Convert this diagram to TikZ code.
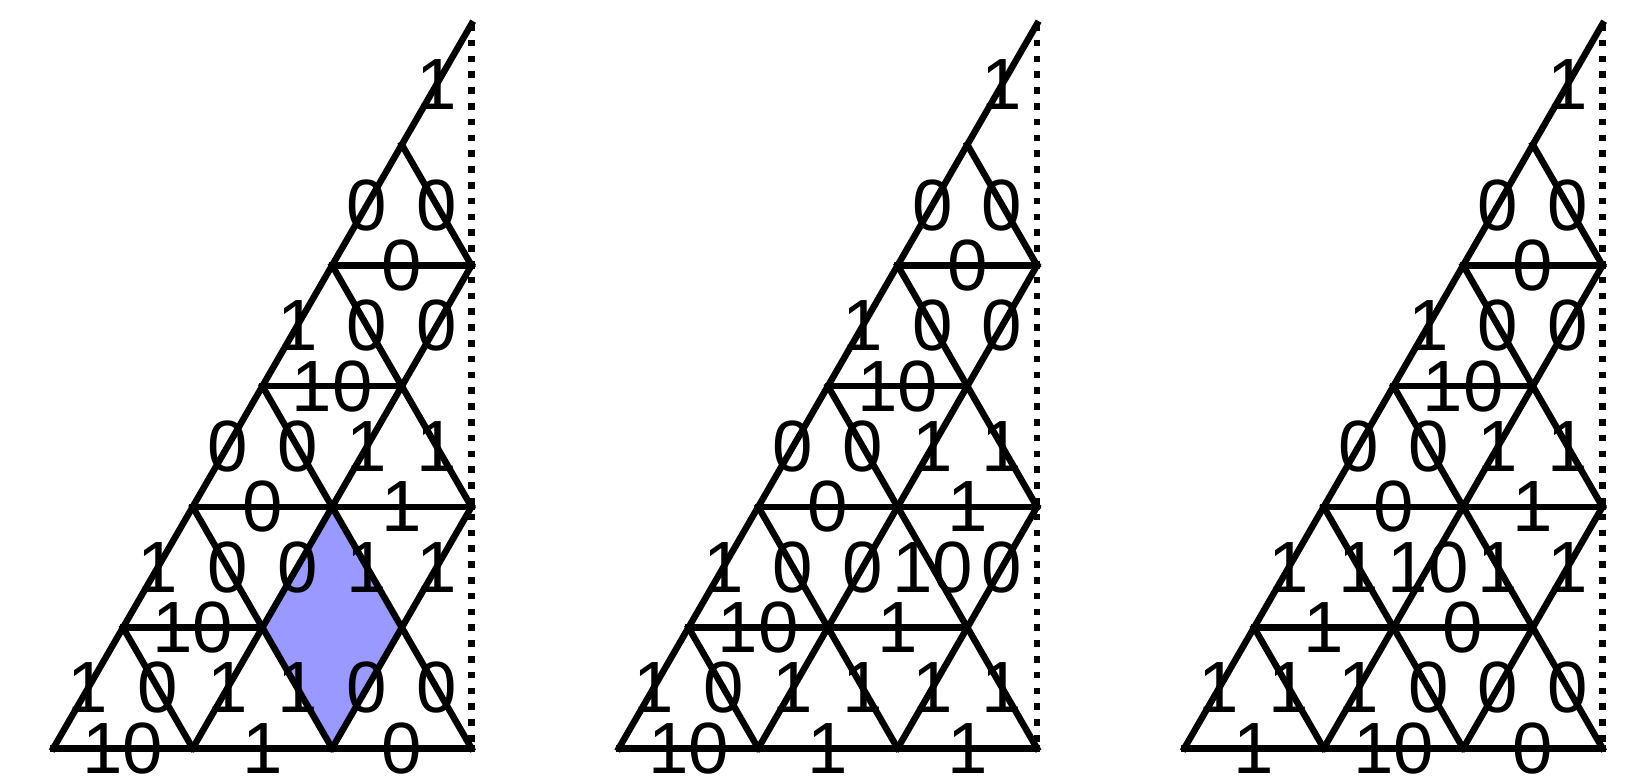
\documentclass[tikz,border=0pt]{standalone}
\usepackage{fontspec}
\setmainfont{Liberation Sans}
\definecolor{rhomb}{RGB}{153,153,255}
\newcommand\latlines[1]{%
  \draw[mirror] (3,6)--(3,0);
  \draw[edge] (0,0)--(3,0);
  \draw[edge] (0,0)--(3,6);
  \draw[edge] (0.5,1)--(#1,1);
  \draw[edge] (1,2)--(3,2);
  \draw[edge] (1.5,3)--(2.5,3);
  \draw[edge] (2,4)--(3,4);
  \draw[edge] (1,0)--(3,4);
  \draw[edge] (2,0)--(3,2);
  \draw[edge] (0.5,1)--(1,0);
  \draw[edge] (1,2)--(2,0);
  \draw[edge] (1.5,3)--(3,0);
  \draw[edge] (2,4)--(3,2);
  \draw[edge] (2.5,5)--(3,4);
}
\newcommand\toplabels[1]{%
  \foreach \x/\y/\t [count=\i] in {2.75/5.5/1, 2.25/4.5/0, 2.75/4.5/0, 2.5/4/0,
     1.75/3.5/1, 2.25/3.5/0, 2.75/3.5/0, 2/3/10,
     1.25/2.5/0, 1.75/2.5/0, 2.25/2.5/1, 2.75/2.5/1,
     1.5/2/0, 2.5/2/1, 0.75/1.5/1}
    \node[lab] (#1t\i) at (\x,\y) {\t};
}
\begin{document}
\begin{tikzpicture}[
  edge/.style={line width=3.25pt, line cap=rect},
  mirror/.style={line width=3.35pt, dash pattern=on 3.35pt off 4.55pt},
  lab/.style={inner sep=0pt, font=\fontsize{36.3}{40}\selectfont},
  panelunits/.style={x=69.7pt, y=60.36pt}
]
\useasboundingbox (0,0) rectangle (821pt,391.5pt);

% Panel 1
\begin{scope}[shift={(26.65pt,17.35pt)}, panelunits]
  \fill[rhomb] (1.5,1)--(2,2)--(2.5,1)--(2,0)--cycle;
  \latlines{1.5}
  \toplabels{a}
  \foreach \x/\y/\t [count=\i] in {1.25/1.5/0, 1.75/1.5/0, 2.25/1.5/1, 2.75/1.5/1,
     1/1/10,
     0.25/0.5/1, 0.75/0.5/0, 1.25/0.5/1, 1.75/0.5/1, 2.25/0.5/0, 2.75/0.5/0,
     0.5/0/10, 1.5/0/1, 2.5/0/0}
    \node[lab] (ab\i) at (\x,\y) {\t};
\end{scope}

% Panel 2
\begin{scope}[shift={(309.4pt,17.35pt)}, panelunits]
  \latlines{2.5}
  \toplabels{b}
  \foreach \x/\y/\t [count=\i] in {1.25/1.5/0, 1.75/1.5/0, 2.25/1.5/10, 2.75/1.5/0,
     1/1/10, 2/1/1,
     0.25/0.5/1, 0.75/0.5/0, 1.25/0.5/1, 1.75/0.5/1, 2.25/0.5/1, 2.75/0.5/1,
     0.5/0/10, 1.5/0/1, 2.5/0/1}
    \node[lab] (bb\i) at (\x,\y) {\t};
\end{scope}

% Panel 3
\begin{scope}[shift={(592.15pt,17.35pt)}, panelunits]
  \latlines{2.5}
  \toplabels{c}
  \foreach \x/\y/\t [count=\i] in {1.25/1.5/1, 1.75/1.5/10, 2.25/1.5/1, 2.75/1.5/1,
     1/1/1, 2/1/0,
     0.25/0.5/1, 0.75/0.5/1, 1.25/0.5/1, 1.75/0.5/0, 2.25/0.5/0, 2.75/0.5/0,
     0.5/0/1, 1.5/0/10, 2.5/0/0}
    \node[lab] (cb\i) at (\x,\y) {\t};
\end{scope}
\end{tikzpicture}
\end{document}
